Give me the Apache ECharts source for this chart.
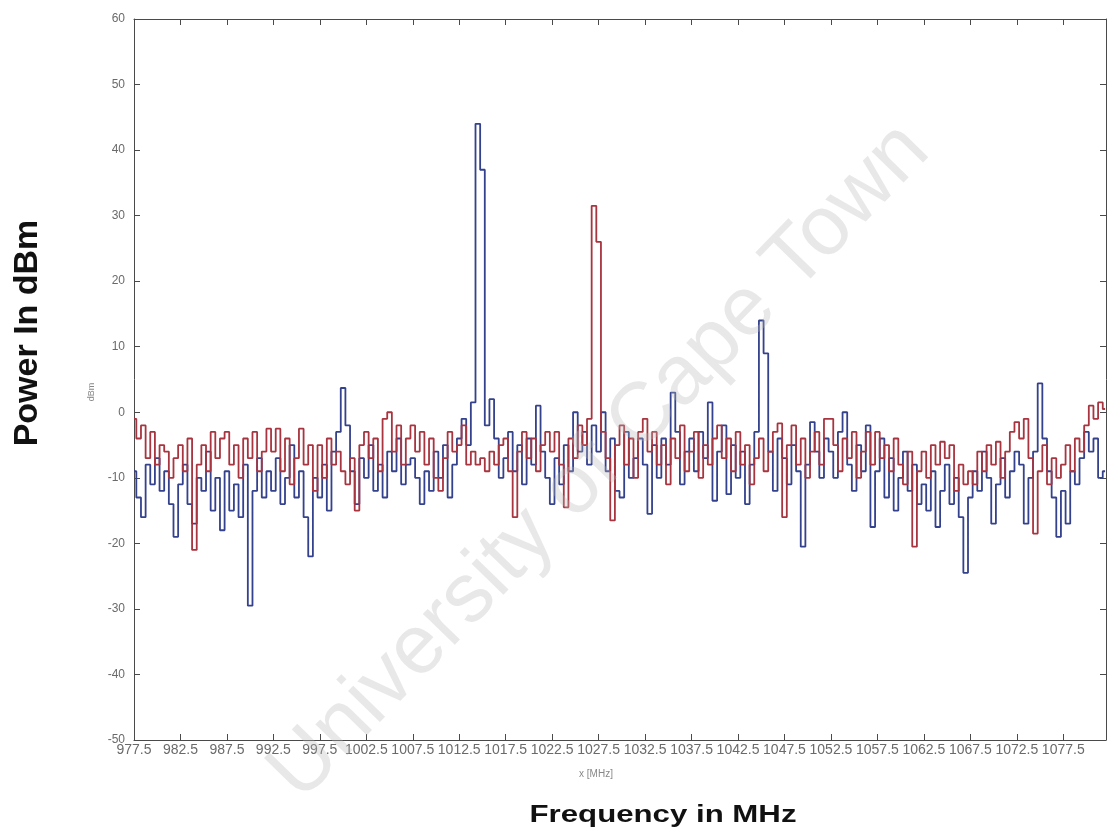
<!DOCTYPE html>
<html>
<head>
<meta charset="utf-8">
<script src="https://cdn.jsdelivr.net/npm/echarts@6/dist/echarts.min.js"></script>
<style>html,body{margin:0;padding:0;background:#fff}#c{width:1107px;height:834px}</style>
</head>
<body>
<div id="c"></div>
<script>
// Frequency grid (MHz): start and step of the sampled spectrum
const freqStart = 977.5;
const freqStep = 0.5;
// x tick labels (MHz)
const xTicks = [977.5,982.5,987.5,992.5,997.5,1002.5,1007.5,1012.5,1017.5,1022.5,1027.5,1032.5,1037.5,1042.5,1047.5,1052.5,1057.5,1062.5,1067.5,1072.5,1077.5];
// y tick labels (dBm)
const yTicks = [-50,-40,-30,-20,-10,0,10,20,30,40,50,60];

// Blue trace (dBm), one value per 0.5 MHz from 977.5 MHz
const blueTrace = [
-9,-13,-16,-8,-11,-7,-12,-9,-14,-19,
-11,-8,-14,-17,-10,-12,-6,-15,-10,-18,
-9,-15,-11,-16,-8,-29.5,-12,-7,-13,-9,
-12,-7,-14,-10,-5,-13,-9,-16,-22,-10,
-13,-8,-15,-6,-3,3.7,-2,-9,-14,-7,
-10,-5,-12,-8,-13,-6,-9,-4,-11,-8,
-7,-10,-14,-9,-12,-6,-10,-5,-13,-8,
-4,-1,-5,1.5,44,37,-2,2,-4,-10,
-7,-3,-9,-5,-11,-4,-8,1,-6,-10,
-14,-7,-11,-5,-9,0,-6,-3,-8,-2,
-6,0,-9,-4,-12,-13,-3,-10,-7,-4,
-8,-15.5,-5,-10,-4,-8,3,-3,-11,-6,
-4,-9,-3,-7,1.5,-13.5,-6,-2,-12.5,-5,
-10,-6,-14,-8,-3,14,9,-6,-12,-4,
-7,-11,-5,-9,-20.5,-8,-1.5,-6,-10,-4,
-6,-10,-3,0,-8,-12,-5,-9,-2,-17.5,
-9,-4,-13,-7,-15,-10,-6,-12,-8,-14,
-11,-15,-9,-17.5,-12,-8,-14,-10,-16,-24.5,
-13,-9,-12,-6,-10,-17,-11,-7,-13,-9,
-6,-8,-17,-10,-6,4.4,-4,-9,-13,-19,
-12,-17,-9,-11,-7,-3,-6,-4,-10,-9
];

// Red trace (dBm), one value per 0.5 MHz from 977.5 MHz
const redTrace = [
-1,-4,-2,-7,-3,-8,-5,-6,-10,-7,
-5,-9,-4,-21,-8,-5,-9,-3,-7,-4,
-3,-8,-5,-10,-4,-7,-3,-9,-6,-2.5,
-6,-2.5,-9,-4,-11,-7,-2.5,-8,-5,-12,
-5,-10,-4,-8,-6,-9,-11,-7,-15,-5,
-3,-7,-4,-9,-1,0,-6,-2,-8,-4,
-2,-6,-3,-8,-4,-10,-12,-7,-3,-6,
-5,-2,-8,-6,-8,-7,-9,-6,-8,-5,
-4,-9,-16,-6,-3,-7,-4,-9,-5,-3,
-6,-3,-8,-14.5,-4,-7,-2,-5,-1,31.5,
26,-3,-7,-16.5,-5,-2,-8,-4,-10,-3,
-1,-6,-3,-8,-5,-11,-4,-7,-2,-9,
-6,-3,-10,-5,-8,-4,-2,-7,-4,-9,
-3,-8,-5,-11,-7,-4,-9,-6,-3,-1.7,
-16,-5,-2,-8,-4,-10,-6,-3,-8,-1,
-1,-5,-9,-4,-7,-3,-10,-6,-3,-8,
-3,-7,-5,-9,-4,-8,-11,-6,-20.5,-9,
-6,-10,-5,-8,-4.5,-7,-5,-12,-8,-11,
-9,-11,-6,-9,-5,-8,-4.5,-10,-6,-3,
-1.5,-4,-1,-7,-18.5,-9,-5,-11,-7,-10,
-8,-5,-9,-4,-6,-2,1,-1,1.5,0.5
];

const toPairs = arr => arr.map((v, i) => [freqStart + i * freqStep, v]);

const FONT = "'Liberation Sans', Arial, sans-serif";
const axisCol = '#4a4a4a';
const xMin = xTicks[0], xMax = 1082.1;

const chart = echarts.init(document.getElementById('c'), null, {renderer: 'canvas'});
chart.setOption({
  animation: false,
  backgroundColor: '#ffffff',
  grid: {left: 134, right: 1, top: 19, bottom: 94, containLabel: false},
  xAxis: [{
    type: 'value', min: xMin, max: xMax, interval: 5,
    axisLine: {show: true, onZero: false, lineStyle: {color: axisCol, width: 1}},
    axisTick: {show: true, inside: true, length: 6, lineStyle: {color: axisCol}},
    axisLabel: {
      show: true, margin: 3, color: '#6a6a6a', fontFamily: FONT, fontSize: 14,
      showMaxLabel: false,
      formatter: v => (xTicks.some(t => Math.abs(t - v) < 1e-6) ? v.toFixed(1) : '')
    },
    splitLine: {show: false}
  }, {
    type: 'value', position: 'top', min: xMin, max: xMax, interval: 5,
    axisLine: {show: true, onZero: false, lineStyle: {color: axisCol, width: 1}},
    axisTick: {show: true, inside: true, length: 6, lineStyle: {color: axisCol}},
    axisLabel: {show: false}, splitLine: {show: false}
  }],
  yAxis: [{
    type: 'value', min: yTicks[0], max: yTicks[yTicks.length - 1], interval: 10,
    axisLine: {show: true, onZero: false, lineStyle: {color: axisCol, width: 1}},
    axisTick: {show: true, inside: true, length: 6, lineStyle: {color: axisCol}},
    axisLabel: {show: true, margin: 9, color: '#6a6a6a', fontFamily: FONT, fontSize: 12},
    splitLine: {show: false}
  }, {
    type: 'value', position: 'right', min: yTicks[0], max: yTicks[yTicks.length - 1], interval: 10,
    axisLine: {show: true, onZero: false, lineStyle: {color: axisCol, width: 1}},
    axisTick: {show: true, inside: true, length: 6, lineStyle: {color: axisCol}},
    axisLabel: {show: false}, splitLine: {show: false}
  }],
  series: [{
    name: 'blue', type: 'line', xAxisIndex: 0, yAxisIndex: 0,
    data: toPairs(blueTrace), step: 'middle', showSymbol: false, symbol: 'none',
    lineStyle: {color: '#34418c', width: 1.8}, z: 2
  }, {
    name: 'red', type: 'line', xAxisIndex: 0, yAxisIndex: 0,
    data: toPairs(redTrace), step: 'middle', showSymbol: false, symbol: 'none',
    lineStyle: {color: '#a8343f', width: 1.8}, z: 3
  }],
  graphic: [
    {type: 'text', x: 28, y: 333, rotation: Math.PI / 2,
     style: {text: 'Power In dBm', fontFamily: FONT, fontWeight: 'bold', fontSize: 34,
             fill: '#111', align: 'center', verticalAlign: 'middle'}},
    {type: 'text', x: 663, y: 815, scaleX: 1.3,
     style: {text: 'Frequency in MHz', fontFamily: FONT, fontWeight: 'bold', fontSize: 24,
             fill: '#111', align: 'center', verticalAlign: 'middle'}},
    {type: 'text', x: 92, y: 392, rotation: Math.PI / 2,
     style: {text: 'dBm', fontFamily: FONT, fontSize: 9, fill: '#888',
             align: 'center', verticalAlign: 'middle'}},
    {type: 'text', x: 596, y: 774,
     style: {text: 'x [MHz]', fontFamily: FONT, fontSize: 10, fill: '#888',
             align: 'center', verticalAlign: 'middle'}},
    {type: 'text', x: 600, y: 462, rotation: 0.80, z: 100,
     style: {text: 'University of Cape Town', fontFamily: FONT, fontSize: 84,
             fill: 'rgba(185,185,185,0.32)', align: 'center', verticalAlign: 'middle'}}
  ]
});
</script>
</body>
</html>
